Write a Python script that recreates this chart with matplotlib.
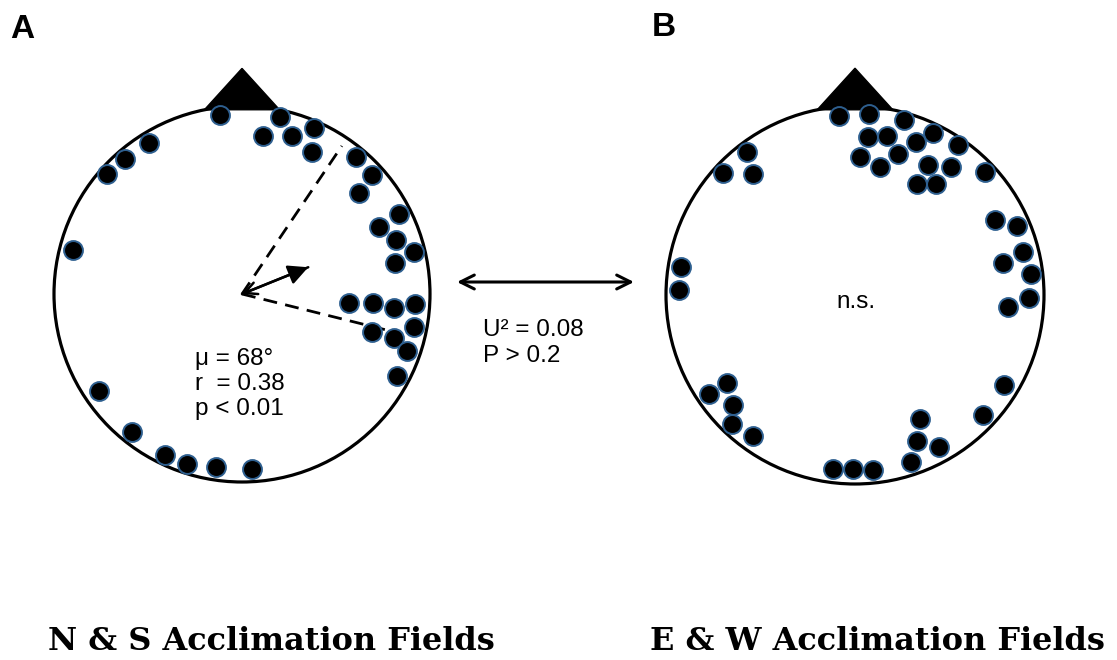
import numpy as np
import matplotlib.pyplot as plt
from matplotlib.patches import Circle, Polygon, FancyArrowPatch

# Orientation data: angle (deg, clockwise from North) and distance from centre (fraction of radius)
ns_angles = [353, 12, 7.5, 17.6, 23.4, 26.2, 328.4, 318.9, 311.8, 39.8, 47.5, 49.2,
             63.0, 63.9, 70.7, 76.2, 78.5, 284.5, 94.8, 93.9, 95.3, 93.3, 100.9, 106.4,
             106.2, 109.0, 117.9, 236.0, 218.4, 205.6, 198.0, 188.5, 176.7]
ns_radius = [0.96, 0.96, 0.85, 0.88, 0.96, 0.84, 0.94, 0.95, 0.96, 0.95, 0.94, 0.82,
             0.94, 0.81, 0.87, 0.94, 0.83, 0.93, 0.57, 0.70, 0.81, 0.92, 0.93, 0.72,
             0.84, 0.93, 0.93, 0.92, 0.94, 0.95, 0.95, 0.93, 0.93]

ew_angles = [354.9, 4.4, 15.7, 4.7, 11.3, 25.7, 21.9, 34.5, 2.1, 11.1, 17.1, 29.1,
             36.9, 29.2, 36.2, 46.6, 322.9, 312.7, 319.9, 62.0, 66.9, 75.7, 77.8, 83.2,
             91.0, 94.5, 279.2, 271.6, 235.5, 235.9, 228.0, 223.6, 215.9, 121.1, 152.3,
             157.1, 151.2, 161.5, 133.2, 187.2, 180.7, 174.1]
ew_radius = [0.95, 0.96, 0.96, 0.84, 0.86, 0.95, 0.87, 0.96, 0.73, 0.69, 0.78, 0.79,
             0.85, 0.67, 0.73, 0.95, 0.95, 0.95, 0.84, 0.84, 0.93, 0.92, 0.80, 0.94,
             0.92, 0.81, 0.93, 0.93, 0.82, 0.93, 0.87, 0.94, 0.92, 0.92, 0.74,
             0.84, 0.92, 0.93, 0.93, 0.93, 0.92, 0.93]

# statystyki dla N & S
mean_dir = 68
mean_r = 0.38
ci_lo, ci_hi = 34, 104
ci_len = [0.95, 0.87]

W, H = 1117, 660
fig = plt.figure(figsize=(W / 100, H / 100), dpi=100)


def polar_xy(ang, rad):
    a = np.radians(np.asarray(ang, dtype=float))
    rad = np.asarray(rad, dtype=float)
    return rad * np.sin(a), rad * np.cos(a)


def circle_panel(cx, cy, R, angles, radius):
    ax = fig.add_axes([(cx - 1.1 * R) / W, (H - (cy + 1.1 * R)) / H,
                       2.2 * R / W, 2.45 * R / H])
    ax.set_xlim(-1.1, 1.1)
    ax.set_ylim(-1.1, 1.35)
    ax.axis('off')
    ax.add_patch(Circle((0, 0), 1, fill=False, lw=2.3, color='black', zorder=2))
    ax.add_patch(Polygon([(-0.2, 0.98), (0, 1.2), (0.2, 0.98)],
                         closed=True, color='black', zorder=2))
    x, y = polar_xy(angles, radius)
    ax.scatter(x, y, s=185, c='black', edgecolors='#2e5f8f', linewidths=1.4, zorder=3)
    return ax


axA = circle_panel(242, 294, 188, ns_angles, ns_radius)
axB = circle_panel(855, 295, 189, ew_angles, ew_radius)

# przedzial ufnosci i wektor sredni
for ang, ln in zip([ci_lo, ci_hi], ci_len):
    x, y = polar_xy([0, ang], [0, ln])
    axA.plot(x, y, color='black', lw=2.0, dashes=(5, 3), zorder=2)

tx, ty = polar_xy(mean_dir, mean_r)
axA.add_patch(FancyArrowPatch((0, 0), (tx, ty), arrowstyle='<-', mutation_scale=22,
                              lw=1.8, color='black', shrinkA=0, shrinkB=0, zorder=4))
axA.add_patch(FancyArrowPatch((0, 0), (tx, ty), arrowstyle='-|>', mutation_scale=30,
                              lw=1.8, color='black', shrinkA=0, shrinkB=0, zorder=4))

# warstwa na napisy (piksele)
ax0 = fig.add_axes([0, 0, 1, 1])
ax0.set_xlim(0, W)
ax0.set_ylim(H, 0)
ax0.axis('off')

sans = 'Liberation Sans'
ax0.text(22, 29, 'A', fontsize=24, fontweight='bold', family=sans, va='center', ha='center')
ax0.text(664, 27, 'B', fontsize=24, fontweight='bold', family=sans, va='center', ha='center')

fs = 17.5
ax0.text(195, 359, 'μ = 68°', fontsize=fs, family=sans, va='center', ha='left')
ax0.text(195, 384, 'r  = 0.38', fontsize=fs, family=sans, va='center', ha='left')
ax0.text(195, 409, 'p < 0.01', fontsize=fs, family=sans, va='center', ha='left')

ax0.text(856, 302, 'n.s.', fontsize=fs, family=sans, va='center', ha='center')

ax0.annotate('', xy=(634, 282), xytext=(457, 282),
             arrowprops=dict(arrowstyle='<->', lw=2.2, color='black',
                             mutation_scale=25, shrinkA=0, shrinkB=0))
ax0.text(483, 330, 'U² = 0.08', fontsize=fs, family=sans, va='center', ha='left')
ax0.text(483, 356, 'P > 0.2', fontsize=fs, family=sans, va='center', ha='left')

serif = 'DejaVu Serif'
ax0.text(271, 642, 'N & S Acclimation Fields', fontsize=23, fontweight='bold',
         family=serif, va='center', ha='center')
ax0.text(877, 642, 'E & W Acclimation Fields', fontsize=23, fontweight='bold',
         family=serif, va='center', ha='center')

fig.savefig('out.png', dpi=100, facecolor='white')
